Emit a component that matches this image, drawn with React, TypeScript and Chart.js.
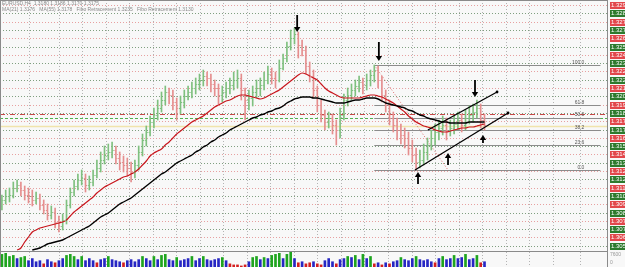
import React, { useEffect, useRef } from 'react';
import { Chart, registerables } from 'chart.js';

Chart.register(...registerables);

// ---------- data ----------
const SLOT_COUNT = 160; // 128 bars + empty right shift
const slotLabels = Array.from({ length: SLOT_COUNT }, (_, i) => `B${i}`);

const opens = [
  1.3094, 1.3100, 1.3104, 1.3105, 1.3112, 1.3115, 1.3110, 1.3105,
  1.3104, 1.3100, 1.3102, 1.3095, 1.3090, 1.3085, 1.3088, 1.3078,
  1.3074, 1.3080, 1.3095, 1.3108, 1.3114, 1.3120, 1.3122, 1.3115,
  1.3118, 1.3125, 1.3132, 1.3140, 1.3145, 1.3148, 1.3150, 1.3142,
  1.3138, 1.3135, 1.3132, 1.3128, 1.3135, 1.3148, 1.3160, 1.3168,
  1.3178, 1.3185, 1.3192, 1.3200, 1.3208, 1.3205, 1.3198, 1.3192,
  1.3198, 1.3204, 1.3208, 1.3212, 1.3216, 1.3220, 1.3224, 1.3222,
  1.3216, 1.3212, 1.3205, 1.3208, 1.3212, 1.3215, 1.3220, 1.3222,
  1.3210, 1.3200, 1.3202, 1.3208, 1.3212, 1.3215, 1.3220, 1.3226,
  1.3222, 1.3220, 1.3232, 1.3242, 1.3254, 1.3262, 1.3266, 1.3255,
  1.3250, 1.3234, 1.3224, 1.3210, 1.3195, 1.3185, 1.3178, 1.3182,
  1.3175, 1.3170, 1.3185, 1.3200, 1.3205, 1.3210, 1.3214, 1.3218,
  1.3215, 1.3220, 1.3225, 1.3230, 1.3220, 1.3205, 1.3195, 1.3182,
  1.3175, 1.3170, 1.3165, 1.3162, 1.3152, 1.3145, 1.3138, 1.3140,
  1.3148, 1.3155, 1.3162, 1.3168, 1.3172, 1.3175, 1.3170, 1.3172,
  1.3176, 1.3180, 1.3175, 1.3182, 1.3185, 1.3188, 1.3192, 1.3180,
];
const highs = [
  1.3105, 1.3110, 1.3112, 1.3118, 1.3120, 1.3118, 1.3114, 1.3112,
  1.3110, 1.3108, 1.3106, 1.3100, 1.3096, 1.3094, 1.3092, 1.3084,
  1.3086, 1.3100, 1.3112, 1.3120, 1.3126, 1.3130, 1.3126, 1.3124,
  1.3130, 1.3140, 1.3148, 1.3154, 1.3156, 1.3158, 1.3154, 1.3148,
  1.3144, 1.3142, 1.3138, 1.3140, 1.3154, 1.3166, 1.3174, 1.3184,
  1.3192, 1.3200, 1.3208, 1.3214, 1.3212, 1.3210, 1.3202, 1.3204,
  1.3210, 1.3214, 1.3218, 1.3222, 1.3226, 1.3230, 1.3228, 1.3226,
  1.3220, 1.3216, 1.3214, 1.3218, 1.3222, 1.3228, 1.3230, 1.3226,
  1.3212, 1.3210, 1.3214, 1.3220, 1.3222, 1.3228, 1.3234, 1.3232,
  1.3228, 1.3240, 1.3246, 1.3258, 1.3270, 1.3272, 1.3268, 1.3260,
  1.3254, 1.3238, 1.3230, 1.3214, 1.3200, 1.3190, 1.3188, 1.3186,
  1.3180, 1.3192, 1.3206, 1.3212, 1.3216, 1.3220, 1.3224, 1.3222,
  1.3226, 1.3230, 1.3235, 1.3234, 1.3224, 1.3210, 1.3200, 1.3188,
  1.3182, 1.3176, 1.3172, 1.3168, 1.3160, 1.3152, 1.3150, 1.3156,
  1.3162, 1.3170, 1.3176, 1.3180, 1.3184, 1.3182, 1.3180, 1.3184,
  1.3188, 1.3186, 1.3190, 1.3194, 1.3196, 1.3200, 1.3196, 1.3186,
];
const lows = [
  1.3090, 1.3096, 1.3098, 1.3102, 1.3108, 1.3104, 1.3100, 1.3097,
  1.3094, 1.3096, 1.3090, 1.3086, 1.3080, 1.3081, 1.3072, 1.3068,
  1.3070, 1.3076, 1.3092, 1.3104, 1.3110, 1.3115, 1.3108, 1.3110,
  1.3114, 1.3122, 1.3128, 1.3136, 1.3140, 1.3142, 1.3136, 1.3130,
  1.3128, 1.3124, 1.3118, 1.3122, 1.3130, 1.3144, 1.3154, 1.3164,
  1.3172, 1.3180, 1.3188, 1.3195, 1.3196, 1.3190, 1.3180, 1.3186,
  1.3192, 1.3200, 1.3202, 1.3206, 1.3210, 1.3214, 1.3214, 1.3208,
  1.3204, 1.3196, 1.3198, 1.3202, 1.3206, 1.3210, 1.3212, 1.3200,
  1.3180, 1.3190, 1.3194, 1.3202, 1.3204, 1.3210, 1.3216, 1.3216,
  1.3212, 1.3218, 1.3230, 1.3238, 1.3250, 1.3256, 1.3242, 1.3244,
  1.3226, 1.3218, 1.3202, 1.3188, 1.3178, 1.3170, 1.3172, 1.3166,
  1.3155, 1.3162, 1.3180, 1.3194, 1.3200, 1.3204, 1.3208, 1.3206,
  1.3210, 1.3214, 1.3218, 1.3212, 1.3198, 1.3188, 1.3175, 1.3168,
  1.3160, 1.3156, 1.3152, 1.3145, 1.3138, 1.3130, 1.3132, 1.3135,
  1.3140, 1.3150, 1.3155, 1.3160, 1.3165, 1.3160, 1.3164, 1.3166,
  1.3170, 1.3168, 1.3170, 1.3176, 1.3178, 1.3182, 1.3172, 1.3170,
];
const closes = [
  1.3100, 1.3104, 1.3105, 1.3112, 1.3115, 1.3110, 1.3105, 1.3104,
  1.3100, 1.3102, 1.3095, 1.3090, 1.3085, 1.3088, 1.3078, 1.3074,
  1.3080, 1.3095, 1.3108, 1.3114, 1.3120, 1.3122, 1.3115, 1.3118,
  1.3125, 1.3132, 1.3140, 1.3145, 1.3148, 1.3150, 1.3142, 1.3138,
  1.3135, 1.3132, 1.3128, 1.3135, 1.3148, 1.3160, 1.3168, 1.3178,
  1.3185, 1.3192, 1.3200, 1.3208, 1.3205, 1.3198, 1.3192, 1.3198,
  1.3204, 1.3208, 1.3212, 1.3216, 1.3220, 1.3224, 1.3222, 1.3216,
  1.3212, 1.3205, 1.3208, 1.3212, 1.3215, 1.3220, 1.3222, 1.3210,
  1.3200, 1.3202, 1.3208, 1.3212, 1.3215, 1.3220, 1.3226, 1.3222,
  1.3220, 1.3232, 1.3242, 1.3254, 1.3262, 1.3266, 1.3255, 1.3250,
  1.3234, 1.3224, 1.3210, 1.3195, 1.3185, 1.3178, 1.3182, 1.3175,
  1.3170, 1.3185, 1.3200, 1.3205, 1.3210, 1.3214, 1.3218, 1.3215,
  1.3220, 1.3225, 1.3230, 1.3220, 1.3205, 1.3195, 1.3182, 1.3175,
  1.3170, 1.3165, 1.3162, 1.3152, 1.3145, 1.3138, 1.3140, 1.3148,
  1.3155, 1.3162, 1.3168, 1.3172, 1.3175, 1.3170, 1.3172, 1.3176,
  1.3180, 1.3175, 1.3182, 1.3185, 1.3188, 1.3192, 1.3180, 1.3175,
];

const maFast = [
  null, null, null, null, 1.3050, 1.3052, 1.3058, 1.3063,
  1.3068, 1.3070, 1.3072, 1.3073, 1.3074, 1.3075, 1.3076, 1.3077,
  1.3078, 1.3080, 1.3084, 1.3088, 1.3091, 1.3094, 1.3097, 1.3100,
  1.3103, 1.3107, 1.3110, 1.3113, 1.3115, 1.3117, 1.3119, 1.3121,
  1.3123, 1.3124, 1.3126, 1.3128, 1.3131, 1.3135, 1.3139, 1.3144,
  1.3147, 1.3149, 1.3151, 1.3155, 1.3158, 1.3162, 1.3166, 1.3169,
  1.3172, 1.3175, 1.3178, 1.3180, 1.3182, 1.3184, 1.3187, 1.3190,
  1.3193, 1.3195, 1.3197, 1.3199, 1.3200, 1.3202, 1.3204, 1.3205,
  1.3205, 1.3204, 1.3203, 1.3202, 1.3201, 1.3202, 1.3204, 1.3206,
  1.3208, 1.3210, 1.3213, 1.3216, 1.3219, 1.3222, 1.3225, 1.3227,
  1.3226, 1.3224, 1.3222, 1.3220, 1.3216, 1.3212, 1.3209, 1.3207,
  1.3205, 1.3203, 1.3202, 1.3202, 1.3202, 1.3202, 1.3202, 1.3203,
  1.3204, 1.3205, 1.3205, 1.3204, 1.3203, 1.3201, 1.3199, 1.3197,
  1.3194, 1.3191, 1.3188, 1.3184, 1.3181, 1.3178, 1.3176, 1.3174,
  1.3173, 1.3172, 1.3170, 1.3169, 1.3168, 1.3168, 1.3169, 1.3170,
  1.3171, 1.3172, 1.3172, 1.3173, 1.3173, 1.3174, 1.3175, 1.3176,
];
const maSlow = [
  null, null, null, null, null, null, null, null,
  1.3050, 1.3051, 1.3052, 1.3054, 1.3056, 1.3057, 1.3058, 1.3059,
  1.3060, 1.3062, 1.3064, 1.3066, 1.3068, 1.3070, 1.3072, 1.3074,
  1.3077, 1.3080, 1.3083, 1.3085, 1.3087, 1.3090, 1.3093, 1.3096,
  1.3098, 1.3100, 1.3102, 1.3105, 1.3108, 1.3111, 1.3114, 1.3117,
  1.3120, 1.3123, 1.3126, 1.3128, 1.3131, 1.3134, 1.3137, 1.3139,
  1.3141, 1.3143, 1.3145, 1.3148, 1.3150, 1.3153, 1.3155, 1.3158,
  1.3160, 1.3163, 1.3165, 1.3167, 1.3170, 1.3172, 1.3174, 1.3176,
  1.3178, 1.3180, 1.3182, 1.3183, 1.3185, 1.3186, 1.3188, 1.3189,
  1.3191, 1.3192, 1.3194, 1.3197, 1.3199, 1.3201, 1.3202, 1.3203,
  1.3203, 1.3203, 1.3202, 1.3202, 1.3201, 1.3200, 1.3199, 1.3198,
  1.3197, 1.3197, 1.3197, 1.3198, 1.3199, 1.3200, 1.3200, 1.3201,
  1.3202, 1.3202, 1.3202, 1.3201, 1.3199, 1.3197, 1.3196, 1.3195,
  1.3194, 1.3193, 1.3192, 1.3190, 1.3189, 1.3187, 1.3185, 1.3184,
  1.3182, 1.3181, 1.3180, 1.3179, 1.3178, 1.3178, 1.3177, 1.3177,
  1.3177, 1.3177, 1.3177, 1.3178, 1.3178, 1.3178, 1.3178, 1.3178,
];

const volumes = [
  6000, 6500, 5000, 5500, 4000, 4500, 5000, 3000,
  4000, 2500, 3000, 1500, 3500, 2500, 2000, 3000,
  4000, 5500, 6000, 5000, 3500, 5000, 3000, 4000,
  3000, 2000, 3500, 4000, 5000, 3500, 3000, 2500,
  2000, 3000, 3500, 2500, 3500, 5000, 4000, 3000,
  5000, 3500, 5500, 6000, 3500, 3000, 4500, 3000,
  3500, 4000, 5000, 3000, 4000, 5000, 3500, 3000,
  3500, 4000, 4500, 3000, 1500, 1000, 1000, 500,
  1000, 2500, 4500, 5000, 3500, 4500, 4000, 5500,
  6000, 6500, 4000, 6000, 7000, 4000, 2000, 2500,
  1500, 2000, 2500, 1500, 1000, 3000, 4000, 2500,
  1500, 3500, 4000, 5000, 4500, 5500, 3500, 6000,
  4000, 5000, 1500, 2000, 1000, 2000, 1500, 2500,
  3000, 4500, 3500, 3000, 4000, 5000, 3500, 3000,
  3500, 2500, 2000, 4000, 5000, 3500, 4000, 5500,
  4000, 4500, 6000, 3500, 4000, 5500, 2000, 2500,
];
const volumeKinds = [
  'G', 'G', 'G', 'G', 'B', 'G', 'G', 'B',
  'B', 'B', 'B', 'R', 'B', 'B', 'R', 'B',
  'B', 'G', 'G', 'G', 'B', 'G', 'B', 'B',
  'B', 'R', 'B', 'B', 'G', 'B', 'B', 'B',
  'R', 'B', 'B', 'B', 'B', 'G', 'B', 'B',
  'G', 'B', 'G', 'G', 'B', 'B', 'G', 'B',
  'B', 'B', 'G', 'B', 'B', 'G', 'B', 'B',
  'B', 'B', 'G', 'B', 'R', 'R', 'R', 'R',
  'R', 'B', 'G', 'G', 'B', 'G', 'B', 'G',
  'G', 'G', 'B', 'G', 'G', 'B', 'R', 'B',
  'R', 'R', 'B', 'R', 'R', 'B', 'B', 'B',
  'R', 'B', 'B', 'G', 'B', 'G', 'B', 'G',
  'B', 'G', 'R', 'B', 'R', 'B', 'R', 'B',
  'B', 'G', 'B', 'B', 'B', 'G', 'B', 'B',
  'B', 'B', 'R', 'B', 'G', 'B', 'B', 'G',
  'B', 'B', 'G', 'B', 'B', 'G', 'R', 'B',
];

// horizontal levels (alternating)
const redLevels = [1.3295, 1.3278, 1.3262, 1.3245, 1.3229, 1.3212, 1.3195, 1.3179, 1.3162, 1.3146, 1.3129, 1.3112, 1.3096, 1.3079, 1.3063];
const greenLevels = [1.3287, 1.3270, 1.3253, 1.3237, 1.3220, 1.3204, 1.3187, 1.3170, 1.3154, 1.3137, 1.3121, 1.3104, 1.3087, 1.3071, 1.3054];
const pivotLine = 1.3186;
const dailyOpenLine = 1.3182;
const yellowLine = 1.3174;

// fibonacci retracement
const fibHighIndex = 98;
const fibHigh = 1.3235;
const fibLowIndex = 117.4;
const fibLow = 1.3130;
const fibEndIndex = 157.5;
const fibRatios = [0, 23.6, 38.2, 50.0, 61.8, 100.0];

// trend lines
const trendStartIndex = [112.1, 108.7];
const trendStartPrice = [1.3170, 1.3130];
const trendEndIndex = [130.3, 133.2];
const trendEndPrice = [1.3208, 1.3187];

// arrows
const downArrowIndex = [77.7, 99.2, 124.5];
const downArrowTip = [1.3268, 1.3239, 1.3203];
const downArrowTail = [1.3285, 1.3258, 1.3220];
const upArrowIndex = [109.5, 117.4, 126.6];
const upArrowTip = [1.3128, 1.3147, 1.3165];
const upArrowTail = [1.3116, 1.3135, 1.3157];

const headerLines = [
  'EURUSD,H4  1.3180 1.3186 1.3170 1.3175',
  'MA(21) 1.3176   MA(55) 1.3178   Fibo Retracement 1.3235   Fibo Retracement 1.3130',
];
const volumeAxisLabels = ['7600', '0'];

// ---------- styles ----------
const UP = '#7fc07f';
const DOWN = '#e58e8e';
const VOL_COLORS: Record<string, string> = { G: '#1fa51f', B: '#2626c4', R: '#d41f1f' };
const FONT = '"Liberation Sans", Arial, sans-serif';

function drawArrow(ctx: CanvasRenderingContext2D, x: number, yTail: number, yTip: number) {
  const dir = Math.sign(yTip - yTail);
  const head = 5;
  ctx.strokeStyle = '#000';
  ctx.lineWidth = 1.8;
  ctx.setLineDash([]);
  ctx.beginPath();
  ctx.moveTo(x, yTail);
  ctx.lineTo(x, yTip - dir * head);
  ctx.stroke();
  ctx.fillStyle = '#000';
  ctx.beginPath();
  ctx.moveTo(x - 3.2, yTip - dir * head);
  ctx.lineTo(x + 3.2, yTip - dir * head);
  ctx.lineTo(x, yTip);
  ctx.closePath();
  ctx.fill();
}

const mtPlugin = {
  id: 'mtPlugin',
  beforeDraw(chart: any) {
    const { ctx, width, height } = chart;
    ctx.save();
    ctx.fillStyle = '#f8f8f8';
    ctx.fillRect(0, 0, width, height);
    ctx.restore();
  },
  beforeDatasetsDraw(chart: any) {
    const { ctx, chartArea: a, scales } = chart;
    const x = scales.x;
    const y = scales.y;
    ctx.save();
    const hLine = (price: number, color: string, dash: number[], from = a.left, to = a.right, w = 1) => {
      const yy = Math.round(y.getPixelForValue(price)) + 0.5;
      ctx.strokeStyle = color;
      ctx.lineWidth = w;
      ctx.setLineDash(dash);
      ctx.beginPath();
      ctx.moveTo(from, yy);
      ctx.lineTo(to, yy);
      ctx.stroke();
    };
    redLevels.forEach((p) => hLine(p, '#e7a0a0', [1, 2]));
    greenLevels.forEach((p) => hLine(p, '#7f9f7f', [1, 2]));
    hLine(pivotLine, '#c84848', [5, 2, 1, 2]);
    hLine(dailyOpenLine, '#52b052', [3, 2]);
    hLine(yellowLine, '#f0e4ac', [], a.left, a.right, 1.5);

    // fibonacci levels
    const fx0 = x.getPixelForValue(fibHighIndex);
    const fx1 = x.getPixelForValue(fibEndIndex);
    fibRatios.forEach((r) => hLine(fibLow + ((fibHigh - fibLow) * r) / 100, '#8c8c8c', [], fx0, fx1));
    // fib diagonal
    ctx.strokeStyle = '#e06a6a';
    ctx.lineWidth = 1;
    ctx.setLineDash([1, 2]);
    ctx.beginPath();
    ctx.moveTo(fx0, y.getPixelForValue(fibHigh));
    ctx.lineTo(x.getPixelForValue(fibLowIndex), y.getPixelForValue(fibLow));
    ctx.stroke();
    ctx.restore();
  },
  afterDatasetsDraw(chart: any) {
    const { ctx, chartArea: a, scales } = chart;
    const x = scales.x;
    const y = scales.y;
    const yv = scales.yv;
    ctx.save();
    // open / close ticks
    for (let i = 0; i < closes.length; i++) {
      const xc = x.getPixelForValue(i);
      ctx.fillStyle = closes[i] >= opens[i] ? UP : DOWN;
      ctx.fillRect(xc - 1.5, Math.round(y.getPixelForValue(opens[i])), 1, 1);
      ctx.fillRect(xc + 0.5, Math.round(y.getPixelForValue(closes[i])), 1, 1);
    }
    // trend lines
    ctx.strokeStyle = '#000';
    ctx.fillStyle = '#000';
    ctx.lineWidth = 1.3;
    ctx.setLineDash([]);
    for (let k = 0; k < trendStartIndex.length; k++) {
      const x0 = x.getPixelForValue(trendStartIndex[k]);
      const y0 = y.getPixelForValue(trendStartPrice[k]);
      const x1 = x.getPixelForValue(trendEndIndex[k]);
      const y1 = y.getPixelForValue(trendEndPrice[k]);
      ctx.beginPath();
      ctx.moveTo(x0, y0);
      ctx.lineTo(x1, y1);
      ctx.stroke();
      ctx.beginPath();
      ctx.arc(x1, y1, 1.4, 0, Math.PI * 2);
      ctx.fill();
    }
    // arrows
    downArrowIndex.forEach((idx, k) =>
      drawArrow(ctx, x.getPixelForValue(idx), y.getPixelForValue(downArrowTail[k]), y.getPixelForValue(downArrowTip[k])));
    upArrowIndex.forEach((idx, k) =>
      drawArrow(ctx, x.getPixelForValue(idx), y.getPixelForValue(upArrowTail[k]), y.getPixelForValue(upArrowTip[k])));

    // fib labels
    ctx.font = `5px ${FONT}`;
    ctx.fillStyle = '#555';
    ctx.textAlign = 'right';
    ctx.textBaseline = 'bottom';
    const fxEnd = x.getPixelForValue(fibEndIndex);
    fibRatios.forEach((r) => {
      const yy = y.getPixelForValue(fibLow + ((fibHigh - fibLow) * r) / 100);
      ctx.fillText(r.toFixed(1), fxEnd - 16, yy);
    });

    // header
    ctx.textAlign = 'left';
    ctx.textBaseline = 'top';
    ctx.fillStyle = '#8a8a8a';
    ctx.font = `5px ${FONT}`;
    headerLines.forEach((t, k) => ctx.fillText(t, a.left + 2, a.top + 1 + k * 6));

    // frame + pane separator
    ctx.strokeStyle = '#8a8a8a';
    ctx.lineWidth = 1;
    ctx.strokeRect(a.left + 0.5, a.top + 0.5, a.right - a.left - 1, a.bottom - a.top);
    ctx.beginPath();
    ctx.moveTo(a.left, Math.round(yv.top) + 0.5);
    ctx.lineTo(a.right, Math.round(yv.top) + 0.5);
    ctx.stroke();

    // right price labels
    const bx = a.right + 2;
    const drawTag = (price: number, fill: string) => {
      const yy = Math.round(y.getPixelForValue(price));
      ctx.fillStyle = fill;
      ctx.fillRect(bx, yy - 3, 40, 7);
      ctx.fillStyle = '#ffffff';
      ctx.font = `6px ${FONT}`;
      ctx.textBaseline = 'middle';
      ctx.textAlign = 'left';
      ctx.fillText(price.toFixed(4), bx + 1, yy + 0.5);
    };
    redLevels.forEach((p) => drawTag(p, '#e2474b'));
    greenLevels.forEach((p) => drawTag(p, '#2d7a2d'));

    // volume axis labels
    ctx.fillStyle = '#999';
    ctx.font = `5px ${FONT}`;
    ctx.textBaseline = 'middle';
    ctx.fillText(volumeAxisLabels[0], bx, yv.top + 4);
    ctx.fillText(volumeAxisLabels[1], bx, yv.bottom - 4);
    ctx.restore();
  },
};

export default function App() {
  const ref = useRef<HTMLCanvasElement>(null);
  useEffect(() => {
    document.body.style.margin = '0';
    const chart = new Chart(ref.current as HTMLCanvasElement, {
      type: 'bar',
      data: {
        labels: slotLabels,
        datasets: [
          {
            type: 'line',
            label: 'MA fast',
            data: maFast,
            borderColor: '#c8161d',
            borderWidth: 1.2,
            pointRadius: 0,
            cubicInterpolationMode: 'monotone',
            yAxisID: 'y',
            xAxisID: 'x',
            order: 1,
          },
          {
            type: 'line',
            label: 'MA slow',
            data: maSlow,
            borderColor: '#000000',
            borderWidth: 1.4,
            pointRadius: 0,
            cubicInterpolationMode: 'monotone',
            yAxisID: 'y',
            xAxisID: 'x',
            order: 0,
          },
          {
            type: 'bar',
            label: 'EURUSD',
            data: highs.map((h, i) => [lows[i], h]),
            backgroundColor: closes.map((c, i) => (c >= opens[i] ? UP : DOWN)),
            borderWidth: 0,
            barThickness: 1,
            grouped: false,
            yAxisID: 'y',
            xAxisID: 'x',
            order: 3,
          },
          {
            type: 'bar',
            label: 'Volumes',
            data: volumes,
            backgroundColor: volumeKinds.map((k) => VOL_COLORS[k]),
            borderWidth: 0,
            barThickness: 2,
            grouped: false,
            yAxisID: 'yv',
            xAxisID: 'x',
            order: 2,
          },
        ] as any,
      },
      options: {
        responsive: false,
        animation: false,
        events: [],
        layout: { padding: { left: 0, right: 17, top: 0, bottom: 0 } },
        plugins: { legend: { display: false }, tooltip: { enabled: false }, title: { display: false } },
        scales: {
          x: { type: 'category', display: false, offset: true },
          xg: {
            type: 'linear',
            position: 'bottom',
            min: -12.25,
            max: 595.75,
            ticks: { display: false, stepSize: 24.5 },
            grid: { color: '#b4b4b4', drawTicks: false, lineWidth: 1 },
            border: { display: false, dash: [1, 2] },
          },
          y: { type: 'linear', position: 'right', display: false, stack: 'pane', stackWeight: 251, min: 1.3049, max: 1.33 },
          yv: { type: 'linear', position: 'right', display: false, stack: 'pane', stackWeight: 16, min: 0, max: 7600 },
        } as any,
      },
      plugins: [mtPlugin],
    });
    return () => chart.destroy();
  }, []);
  return <canvas ref={ref} width={625} height={267} style={{ display: 'block' }} />;
}
